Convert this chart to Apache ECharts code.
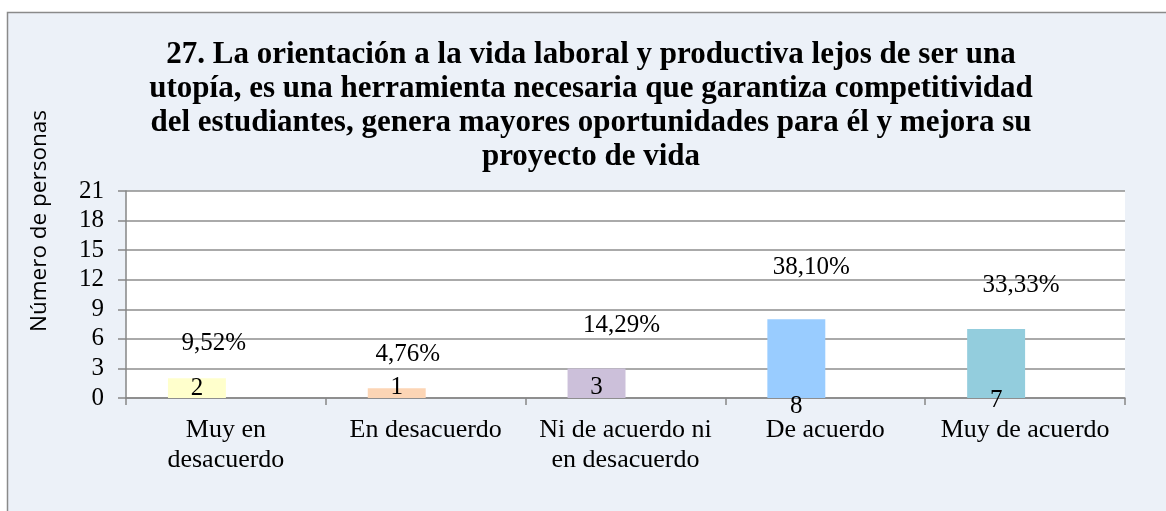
<!DOCTYPE html>
<html>
<head>
<meta charset="utf-8">
<script src="https://cdn.jsdelivr.net/npm/echarts@6/dist/echarts.min.js"></script>
<style>
  html, body { margin: 0; padding: 0; background: #ffffff; }
  #chart { width: 1166px; height: 511px; }
</style>
</head>
<body>
<div id="chart"></div>
<script>
// Survey answers for question 27
const categories = ['Muy en\ndesacuerdo', 'En desacuerdo', 'Ni de acuerdo ni\nen desacuerdo', 'De acuerdo', 'Muy de acuerdo'];
const personas = [2, 1, 3, 8, 7];
const porcentajes = [9.52, 4.76, 14.29, 38.10, 33.33];
const yTicks = { min: 0, max: 21, interval: 3 };
const barColors = ['#ffffcc', '#fcd5b5', '#ccc0da', '#99ccff', '#93cddd'];

// hand-placed label nudges (pixels)
const countLabelDy = [2.5, 1.5, 1.5, 20.5, 14.5];
const pctLabelShift = [[-41, 3], [-47, 1], [-33, -3], [-43, 1], [-33, 6]];

const serif = 'Liberation Serif, Times New Roman, serif';
const fmtPct = v => v.toFixed(2).replace('.', ',') + '%';

const chart = echarts.init(document.getElementById('chart'), null, { renderer: 'canvas' });

chart.setOption({
  animation: false,
  backgroundColor: '#ffffff',
  graphic: [
    {
      type: 'rect', z: -10, silent: true,
      shape: { x: 7.5, y: 12.5, width: 1200, height: 600 },
      style: { fill: '#ecf1f8', stroke: '#8a8a8a', lineWidth: 1.5 }
    },
    {
      type: 'text', z: 10, silent: true,
      x: 40, y: 221, rotation: Math.PI / 2,
      style: {
        text: 'Número de personas',
        font: '22.5px "Open Sans", sans-serif',
        fill: '#000000',
        textAlign: 'center',
        textVerticalAlign: 'middle'
      }
    }
  ],
  title: {
    text: '27. La orientación a la vida laboral y productiva lejos de ser una\nutopía, es una herramienta necesaria que garantiza competitividad\ndel estudiantes, genera mayores oportunidades para él y mejora su\nproyecto de vida',
    left: 591,
    top: 38,
    padding: 0,
    textAlign: 'center',
    textStyle: {
      fontFamily: serif,
      fontWeight: 'bold',
      fontSize: 31,
      lineHeight: 34,
      color: '#000000'
    }
  },
  grid: {
    left: 126, right: 41, top: 191, bottom: 113,
    show: true, backgroundColor: '#ffffff', borderWidth: 0
  },
  xAxis: {
    type: 'category',
    data: categories,
    boundaryGap: true,
    axisLine: { show: true, lineStyle: { color: '#868686', width: 1.5 } },
    axisTick: { show: true, length: 7, lineStyle: { color: '#868686', width: 1.5 } },
    axisLabel: {
      interval: 0,
      margin: 17,
      fontFamily: serif,
      fontSize: 26,
      lineHeight: 30,
      color: '#000000'
    }
  },
  yAxis: [
    {
      type: 'value',
      min: yTicks.min,
      max: yTicks.max,
      interval: yTicks.interval,
      axisLine: { show: true, lineStyle: { color: '#868686', width: 1.5 } },
      axisTick: { show: true, length: 8, lineStyle: { color: '#868686', width: 1.5 } },
      axisLabel: { margin: 22, fontFamily: serif, fontSize: 25, color: '#000000' },
      splitLine: { show: true, lineStyle: { color: '#8e8e8e', width: 1.6 } }
    },
    {
      type: 'value',
      min: 0,
      max: 80,
      show: false,
      splitLine: { show: false }
    }
  ],
  series: [
    {
      name: 'Número de personas',
      type: 'bar',
      barGap: '0%',
      barCategoryGap: '42%',
      data: personas.map((v, i) => ({
        value: v,
        itemStyle: { color: barColors[i] },
        label: { offset: [0, countLabelDy[i]] }
      })),
      label: {
        show: true,
        position: 'insideBottom',
        distance: 0,
        fontFamily: serif,
        fontSize: 25,
        color: '#000000'
      }
    },
    {
      name: 'Porcentaje',
      type: 'bar',
      yAxisIndex: 1,
      data: porcentajes.map((v, i) => ({
        value: v,
        label: { offset: pctLabelShift[i] }
      })),
      itemStyle: { color: 'rgba(0,0,0,0)' },
      label: {
        show: true,
        position: 'top',
        distance: 20,
        fontFamily: serif,
        fontSize: 25,
        color: '#000000',
        formatter: p => fmtPct(p.value)
      }
    }
  ]
});
</script>
</body>
</html>
